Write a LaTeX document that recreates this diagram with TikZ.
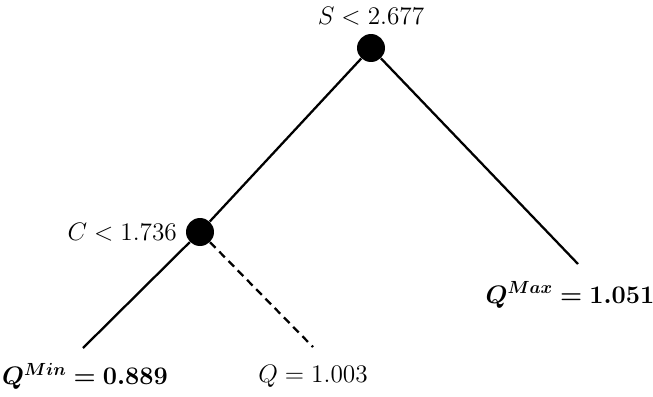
\documentclass[tikz,border=0pt]{standalone}
\usepackage{amsmath,bm}
\usetikzlibrary{positioning}
\begin{document}
\begin{tikzpicture}[x=0.02cm, y=-0.02cm,
    every node/.style={font=\Large},
    split/.style={fill=black, circle, minimum size=0.56cm, inner sep=0pt},
    branch/.style={black, line width=1.3pt},
    maybe/.style={branch, dash pattern=on 4.5pt off 3pt},
  ]
    \useasboundingbox (0,0) rectangle (653,396);

    % Split nodes and their tests
    \node[split] (s) at (371,48) {};
    \node[split] (c) at (200,232) {};
    \node (slab) at (371,16) {$S < 2.677$};
    \node[anchor=east] (clab) at (183,232) {$C < 1.736$};

    % Leaf ends
    \coordinate (lmin) at (83,348);
    \coordinate (lq) at (313,347);
    \coordinate (lmax) at (578,264);

    % Branches
    \draw[branch] (s) -- (c);
    \draw[branch] (c) -- (lmin);
    \draw[maybe] (c) -- (lq);
    \draw[branch] (s) -- (lmax);

    % Leaf values
    \node (qmin) at (85,376) {$\bm{Q^{Min} = 0.889}$};
    \node (q) at (313,376) {$Q = 1.003$};
    \node (qmax) at (570,295) {$\bm{Q^{Max} = 1.051}$};
  \end{tikzpicture}
\end{document}
